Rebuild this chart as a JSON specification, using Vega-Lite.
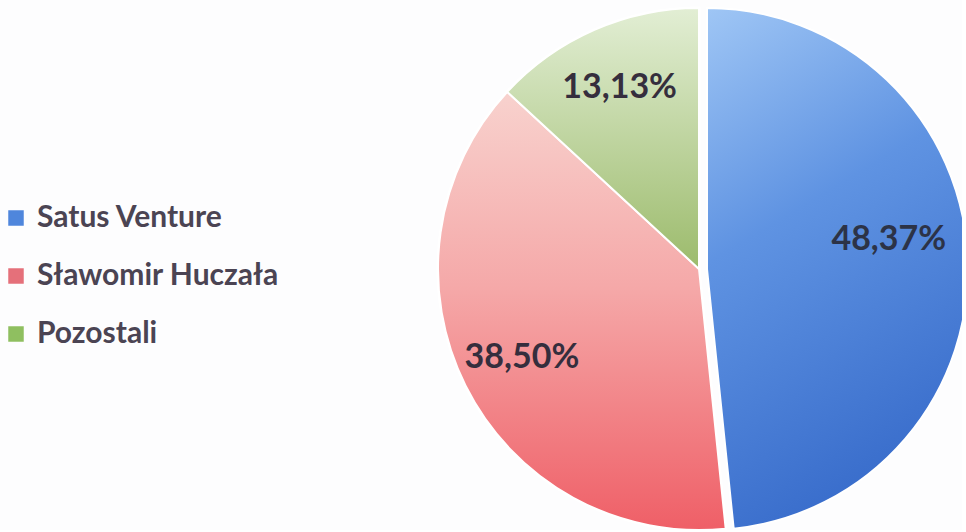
{
  "$schema": "https://vega.github.io/schema/vega-lite/v6.json",
  "autosize": {"type": "none"},
  "padding": {"left": 436, "top": 8, "right": 0, "bottom": 0},
  "width": 526,
  "height": 522,
  "background": "#fdfdfe",
  "data": {"values": [
    {"name": "Satus Venture", "share": 48.37, "label": "48,37%", "rank": 1},
    {"name": "Sławomir Huczała", "share": 38.50, "label": "38,50%", "rank": 2},
    {"name": "Pozostali", "share": 13.13, "label": "13,13%", "rank": 3}
  ]},
  "encoding": {
    "theta": {"field": "share", "type": "quantitative", "stack": true},
    "order": {"field": "rank", "type": "quantitative"}
  },
  "layer": [
    {
      "mark": {"type": "arc", "outerRadius": 261, "stroke": "white", "strokeWidth": 3},
      "encoding": {
        "color": {
          "field": "name", "type": "nominal",
          "scale": {"domain": ["Satus Venture", "Sławomir Huczała", "Pozostali"], "range": ["#4f86dc", "#e5707a", "#8fbf60"]},
          "legend": {
            "title": null, "orient": "none", "legendX": -435, "legendY": 195, "padding": 0,
            "symbolType": "square", "symbolSize": 240, "symbolStrokeWidth": 0,
            "labelFont": "Lato", "labelFontSize": 30, "labelFontWeight": "bold", "labelColor": "#4b4453",
            "labelOffset": 6, "rowPadding": 28, "labelLimit": 400
          }
        },
        "fillOpacity": {"condition": {"test": "datum.name === 'Satus Venture'", "value": 0}, "value": 1},
        "strokeOpacity": {"condition": {"test": "datum.name === 'Satus Venture'", "value": 0}, "value": 1}
      }
    },
    {
      "mark": {"type": "arc", "outerRadius": 261, "stroke": "white", "strokeWidth": 2},
      "encoding": {
        "fill": {
          "condition": [
            {"test": "datum.name === 'Sławomir Huczała'", "value": {"gradient": "linear", "x1": 0, "y1": 0, "x2": 0, "y2": 1, "stops": [{"offset": 0, "color": "#f8d2ce"}, {"offset": 0.45, "color": "#f5a8a8"}, {"offset": 1, "color": "#ef5f67"}]}},
            {"test": "datum.name === 'Pozostali'", "value": {"gradient": "linear", "x1": 0, "y1": 0, "x2": 0, "y2": 1, "stops": [{"offset": 0, "color": "#e2eed4"}, {"offset": 1, "color": "#9cbb6c"}]}}
          ],
          "value": "transparent"
        },
        "strokeOpacity": {"condition": {"test": "datum.name === 'Satus Venture'", "value": 0}, "value": 1}
      }
    },
    {
      "mark": {"type": "arc", "outerRadius": 261, "xOffset": 8, "stroke": "white", "strokeWidth": 2},
      "encoding": {
        "fill": {
          "condition": [
            {"test": "datum.name === 'Satus Venture'", "value": {"gradient": "linear", "x1": 0, "y1": 0, "x2": 0.3, "y2": 1, "stops": [{"offset": 0, "color": "#9fc6f5"}, {"offset": 0.45, "color": "#5f93e2"}, {"offset": 1, "color": "#3a6ecc"}]}}
          ],
          "value": "transparent"
        },
        "strokeOpacity": {"condition": {"test": "datum.name === 'Satus Venture'", "value": 1}, "value": 0}
      }
    },
    {
      "mark": {"type": "text", "radius": 198, "font": "Lato", "fontSize": 34, "fontWeight": "bold", "color": "#352e3d"},
      "encoding": {
        "text": {"field": "label", "type": "nominal"},
        "opacity": {"condition": {"test": "datum.name === 'Satus Venture'", "value": 0}, "value": 1}
      }
    },
    {
      "mark": {"type": "text", "radius": 190, "dy": -19, "font": "Lato", "fontSize": 34, "fontWeight": "bold", "color": "#2c3347"},
      "encoding": {
        "text": {"field": "label", "type": "nominal"},
        "opacity": {"condition": {"test": "datum.name === 'Satus Venture'", "value": 1}, "value": 0}
      }
    }
  ]
}
